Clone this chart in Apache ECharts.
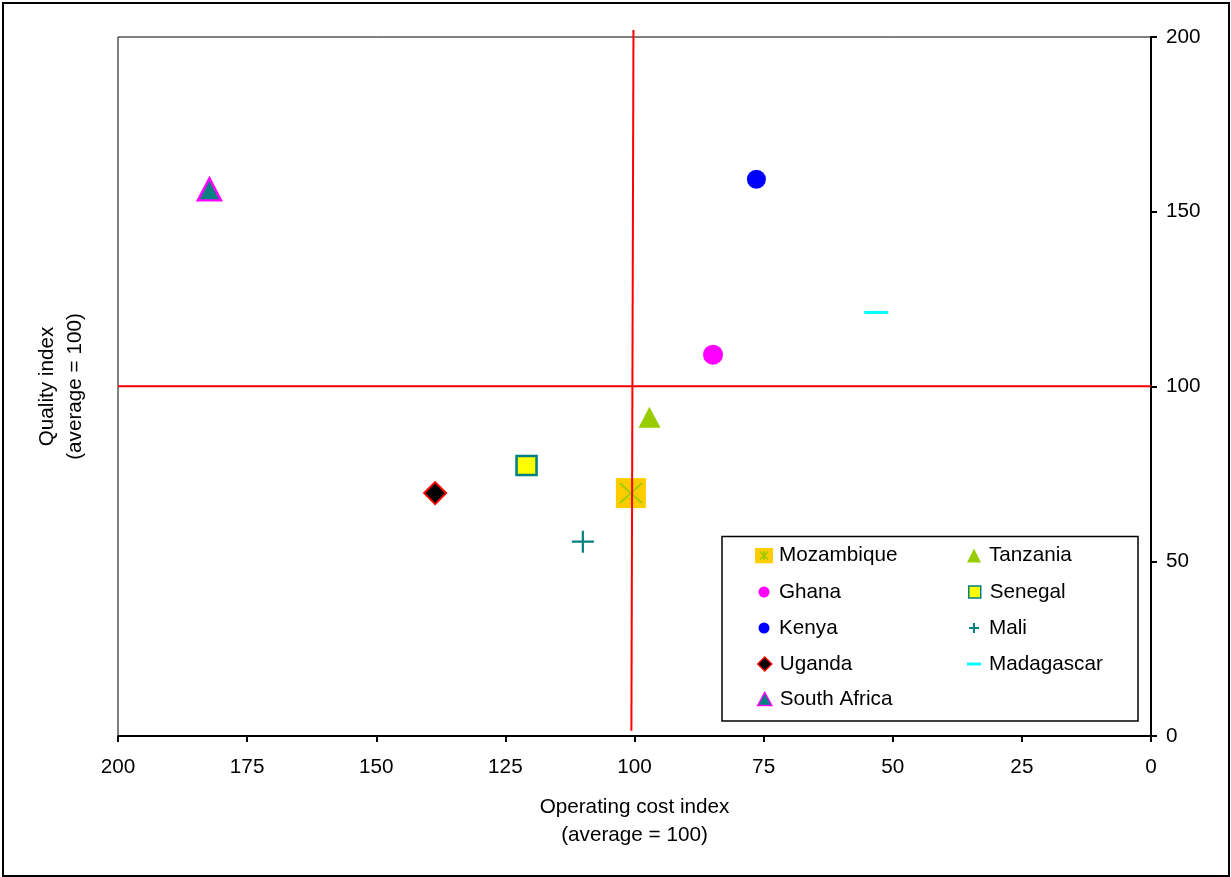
<!DOCTYPE html>
<html>
<head>
<meta charset="utf-8">
<title>Operating cost vs quality index</title>
<script src="https://cdn.jsdelivr.net/npm/echarts@6/dist/echarts.min.js"></script>
<style>
  html, body { margin: 0; padding: 0; background: #fff; }
  #chart { width: 1231px; height: 877px; }
</style>
</head>
<body>
<div id="chart"></div>
<script>
// Country index values (average = 100)
const countries = ['Mozambique', 'Tanzania', 'Ghana', 'Senegal', 'Kenya', 'Mali', 'Uganda', 'Madagascar', 'South Africa'];
const costIndex = [100.7, 97.1, 84.8, 120.9, 76.4, 110.0, 138.6, 53.2, 182.3];
const qualityIndex = [69.5, 91.2, 109.1, 77.4, 159.3, 55.6, 69.5, 121.2, 156.4];

// Average reference lines
const vLineX = [100.2, 100.6];
const vLineY = [202, 1.5];
const hLineX = [200, 0];
const hLineY = [100.1, 100.1];

// Axis scale
const axisMin = 0;
const axisMax = 200;
const xStep = 25;
const yStep = 50;

const FONT = "'Liberation Sans', Arial, sans-serif";
const FS = 20.7;

const P = {
  star: 'path://M0,0L20,20M20,0L0,20',
  plus: 'path://M9,0H11V9H20V11H11V20H9V11H0V9H9Z',
  legendPlus: 'path://M4,0H6V4H10V6H6V10H4V6H0V4H4Z',
  legendTri: 'path://M7,0L14,14L0,14Z',
  legendTriSA: 'path://M7,0L14,13L0,13Z',
  legendSquare: 'path://M0,0H12V12H0Z',
  legendDiamond: 'path://M7,0L14,7L7,14L0,7Z',
  legendDash: 'path://M0,0H14V3H0Z'
};

const mozSvg = "<svg xmlns='http://www.w3.org/2000/svg' width='18' height='16'>" +
  "<rect width='18' height='16' fill='#FFCC00'/>" +
  "<path d='M5,4L13,12M13,4L5,12M9,3.5V12.5' stroke='#99CC00' stroke-width='1.6' fill='none'/></svg>";
const mozIcon = 'image://data:image/svg+xml;charset=utf-8,' + encodeURIComponent(mozSvg);

function pt(name) {
  const i = countries.indexOf(name);
  return [[costIndex[i], qualityIndex[i]]];
}

function scatter(name, symbol, size, style, z) {
  return {
    name: name,
    type: 'scatter',
    data: pt(name),
    symbol: symbol,
    symbolSize: size,
    itemStyle: Object.assign({ opacity: 1 }, style),
    emphasis: { disabled: true },
    z: z || 2,
    silent: true
  };
}

const series = [
  scatter('Mozambique', 'rect', [30, 30], { color: '#FFCC00', borderWidth: 0 }),
  scatter('Mozambique', P.star, [22, 20], { color: 'rgba(0,0,0,0)', borderColor: '#99CC00', borderWidth: 1.6 }, 3),
  scatter('Tanzania', 'triangle', [22, 21], { color: '#99CC00', borderWidth: 0 }),
  scatter('Ghana', 'circle', 20, { color: '#FF00FF', borderWidth: 0 }),
  scatter('Senegal', 'rect', [20, 19], { color: '#FFFF00', borderColor: '#008080', borderWidth: 2.5 }),
  scatter('Kenya', 'circle', 19, { color: '#0000FF', borderWidth: 0 }),
  scatter('Mali', P.plus, [22, 22], { color: '#008080', borderWidth: 0 }),
  scatter('Uganda', 'diamond', [22, 22], { color: '#000000', borderColor: '#FF0000', borderWidth: 2 }),
  scatter('Madagascar', 'rect', [24, 3], { color: '#00FFFF', borderWidth: 0 }),
  scatter('South Africa', 'triangle', [23, 22], { color: '#008080', borderColor: '#FF00FF', borderWidth: 2.5 }),
  {
    type: 'line',
    data: vLineX.map((x, i) => [x, vLineY[i]]),
    symbol: 'none',
    clip: false,
    silent: true,
    z: 5,
    lineStyle: { color: '#FF0000', width: 2 }
  },
  {
    type: 'line',
    data: hLineX.map((x, i) => [x, hLineY[i]]),
    symbol: 'none',
    clip: false,
    silent: true,
    z: 5,
    lineStyle: { color: '#FF0000', width: 2 }
  }
];

// Legend entries: [name, icon, drawn icon width, icon height, style, column, row]
const legendItems = [
  ['Mozambique', mozIcon, 20, 16, {}, 0, 0],
  ['Tanzania', P.legendTri, 14, 14, { color: '#99CC00', borderWidth: 0 }, 1, 0],
  ['Ghana', 'circle', 11, 11, { color: '#FF00FF', borderWidth: 0 }, 0, 1],
  ['Senegal', P.legendSquare, 12, 12, { color: '#FFFF00', borderColor: '#008080', borderWidth: 1.5 }, 1, 1],
  ['Kenya', 'circle', 11, 11, { color: '#0000FF', borderWidth: 0 }, 0, 2],
  ['Mali', P.legendPlus, 10, 10, { color: '#008080', borderWidth: 0 }, 1, 2],
  ['Uganda', P.legendDiamond, 14, 14, { color: '#000000', borderColor: '#FF0000', borderWidth: 1.5 }, 0, 3],
  ['Madagascar', P.legendDash, 14, 3, { color: '#00FFFF', borderWidth: 0 }, 1, 3],
  ['South Africa', P.legendTriSA, 14, 13, { color: '#008080', borderColor: '#FF00FF', borderWidth: 1.5 }, 0, 4]
];
const legendTextX = [779, 989];
const legendRowY = [555, 591.5, 627.5, 663.5, 698.5];
const ICON_BOX = 20;

const legends = legendItems.map(([name, icon, iw, h, style, col, row]) => ({
  show: true,
  orient: 'vertical',
  left: legendTextX[col] - 5 - ICON_BOX + (ICON_BOX - iw) / 2,
  top: legendRowY[row] - 10,
  padding: 0,
  itemWidth: ICON_BOX,
  itemHeight: h,
  symbolKeepAspect: true,
  selectedMode: false,
  textStyle: { fontSize: FS, color: '#000', fontFamily: FONT },
  data: [{ name: name, icon: icon, itemStyle: style }]
}));

const chart = echarts.init(document.getElementById('chart'), null, { renderer: 'canvas' });

chart.setOption({
  animation: false,
  backgroundColor: '#fff',
  textStyle: { fontFamily: FONT },
  grid: {
    left: 118, top: 37, width: 1033, height: 699,
    show: true, borderColor: '#000', borderWidth: 1,
    containLabel: false, outerBoundsMode: 'none'
  },
  legend: legends,
  xAxis: {
    type: 'value',
    inverse: true,
    min: axisMin, max: axisMax, interval: xStep,
    name: 'Operating cost index\n(average = 100)',
    nameLocation: 'middle',
    nameGap: 57,
    nameTextStyle: { fontSize: FS, color: '#000', lineHeight: 28, fontFamily: FONT },
    axisLine: { show: true, lineStyle: { color: '#000', width: 2 } },
    axisTick: { show: true, inside: false, length: 6, lineStyle: { color: '#000', width: 2 } },
    axisLabel: { fontSize: FS, color: '#000', margin: 21, showMinLabel: true, showMaxLabel: true, fontFamily: FONT },
    splitLine: { show: false }
  },
  yAxis: [
    {
      type: 'value',
      position: 'right',
      min: axisMin, max: axisMax, interval: yStep,
      axisLine: { show: true, lineStyle: { color: '#000', width: 2 } },
      axisTick: { show: true, inside: false, length: 6, lineStyle: { color: '#000', width: 2 } },
      axisLabel: { fontSize: FS, color: '#000', margin: 15, showMinLabel: true, showMaxLabel: true, fontFamily: FONT },
      splitLine: { show: false }
    },
    {
      type: 'value',
      position: 'left',
      min: axisMin, max: axisMax,
      name: 'Quality index\n(average = 100)',
      nameLocation: 'middle',
      nameGap: 29,
      nameRotate: 90,
      nameTextStyle: { fontSize: FS, color: '#000', lineHeight: 28, fontFamily: FONT },
      axisLine: { show: false },
      axisTick: { show: false },
      axisLabel: { show: false },
      splitLine: { show: false }
    }
  ],
  graphic: [
    {
      type: 'rect',
      shape: { x: 3, y: 3, width: 1226, height: 873 },
      style: { fill: 'none', stroke: '#000', lineWidth: 2 },
      silent: true,
      z: 0
    },
    {
      type: 'rect',
      shape: { x: 722, y: 536.5, width: 416, height: 184.5 },
      style: { fill: '#fff', stroke: '#000', lineWidth: 1.5 },
      silent: true,
      z: -1
    }
  ],
  series: series
});
</script>
</body>
</html>
